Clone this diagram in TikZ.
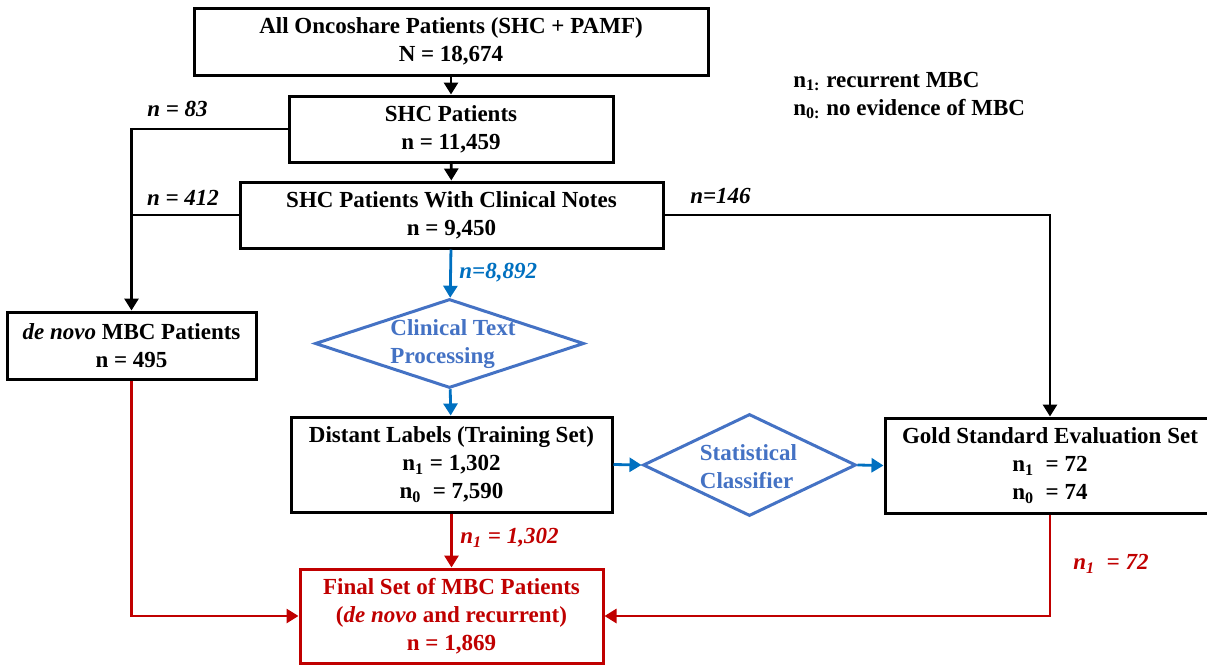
\documentclass[tikz,border=0pt]{standalone}
\usepackage{fontspec}
\setmainfont{Liberation Serif}
\usetikzlibrary{arrows.meta,shapes.geometric}
\definecolor{boxred}{HTML}{C00000}
\definecolor{flowblue}{HTML}{0070C0}
\definecolor{shapeblue}{HTML}{4472C4}
\tikzset{
    box/.style = {draw, line width=1.5pt, align=center, inner sep=0pt},
    decision/.style = {draw=shapeblue, diamond, line width=1.5pt, inner sep=0pt},
    decisiontext/.style = {text=shapeblue, align=left, inner sep=0pt},
    flow/.style = {line width=1.4pt, -{Triangle[length=6pt,width=7pt]}},
    countlabel/.style = {font=\fontsize{11.5}{14}\selectfont\bfseries\itshape, inner sep=0pt}
}
\begin{document}
\begin{tikzpicture}[x=0.5pt,y=-0.5pt,font=\fontsize{11.5}{14}\selectfont\bfseries]
            \useasboundingbox (0,0) rectangle (1207,665);
            % boxes
            \node [box, minimum width=257pt, minimum height=33.5pt] (all) at (451,41.5) {All Oncoshare Patients (SHC + PAMF)\\N = 18,674};
            \node [box, minimum width=162pt, minimum height=33pt] (shc) at (451,129) {SHC Patients\\n = 11,459};
            \node [box, minimum width=211.5pt, minimum height=33pt] (notes) at (451.5,215) {SHC Patients With Clinical Notes\\n = 9,450};
            \node [box, minimum width=124.5pt, minimum height=33.5pt] (denovo) at (131.5,345.5) {\textit{de novo} MBC Patients\\n = 495};
            \node [box, minimum width=160.5pt, minimum height=47.5pt] (distant) at (451.5,464.5) {Distant Labels (Training Set)\\n\textsubscript{1} = 1,302\\n\textsubscript{0}\ \ = 7,590};
            \node [box, minimum width=165pt, minimum height=47.5pt] (gold) at (1050,465.5) {Gold Standard Evaluation Set\\n\textsubscript{1}\ \ = 72\\n\textsubscript{0}\ \ = 74};
            \node [box, draw=boxred, text=boxred, minimum width=151.5pt, minimum height=47pt] (final) at (451.5,616) {Final Set of MBC Patients\\(\textit{de novo} and recurrent)\\n = 1,869};
            % diamonds
            \node [decision, minimum width=134.5pt, minimum height=44.5pt] (ctp) at (449.5,343.5) {};
            \node [decisiontext] (ctptext) at (453,344) {Clinical Text\\Processing};
            \node [decision, minimum width=106.5pt, minimum height=51pt] (stat) at (749.5,465) {};
            \node [decisiontext] (stattext) at (748.5,466.5) {Statistical\\Classifier};
            % legend
            \node [anchor=west, align=left, inner sep=0pt] (legend) at (793,95.5) {n\textsubscript{1:} recurrent MBC\\n\textsubscript{0:} no evidence of MBC};
            % black connectors
            \draw [flow] (all) -- (shc);
            \draw [flow] (shc) -- (notes);
            \draw [flow] (shc.west) -| (denovo.north);
            \draw [line width=1.4pt] (notes.west) -- (notes.west -| denovo.north);
            \draw [flow] (notes.east) -| (gold.north);
            \node [countlabel] (l83) at (177.5,109) {n = 83};
            \node [countlabel] (l412) at (183,198) {n = 412};
            \node [countlabel] (l146) at (720.5,196) {n=146};
            % blue connectors
            \draw [flow, flowblue] (notes) -- (ctp);
            \draw [flow, flowblue] (ctp) -- (distant);
            \draw [flow, flowblue] (distant.east) -- (stat.west);
            \draw [flow, flowblue] (stat.east) -- (gold.west);
            \node [countlabel, text=flowblue, anchor=west] (l8892) at (459,273) {n=8,892};
            % red connectors
            \draw [flow, boxred] (distant) -- (final);
            \draw [flow, boxred] (denovo.south) |- (final.west);
            \draw [flow, boxred] (gold.south) |- (final.east);
            \node [countlabel, text=boxred, anchor=west] (l1302) at (460,538) {n\textsubscript{1} = 1,302};
            \node [countlabel, text=boxred, anchor=west] (l72) at (1073,564) {n\textsubscript{1}\ \ = 72};
        \end{tikzpicture}
\end{document}
